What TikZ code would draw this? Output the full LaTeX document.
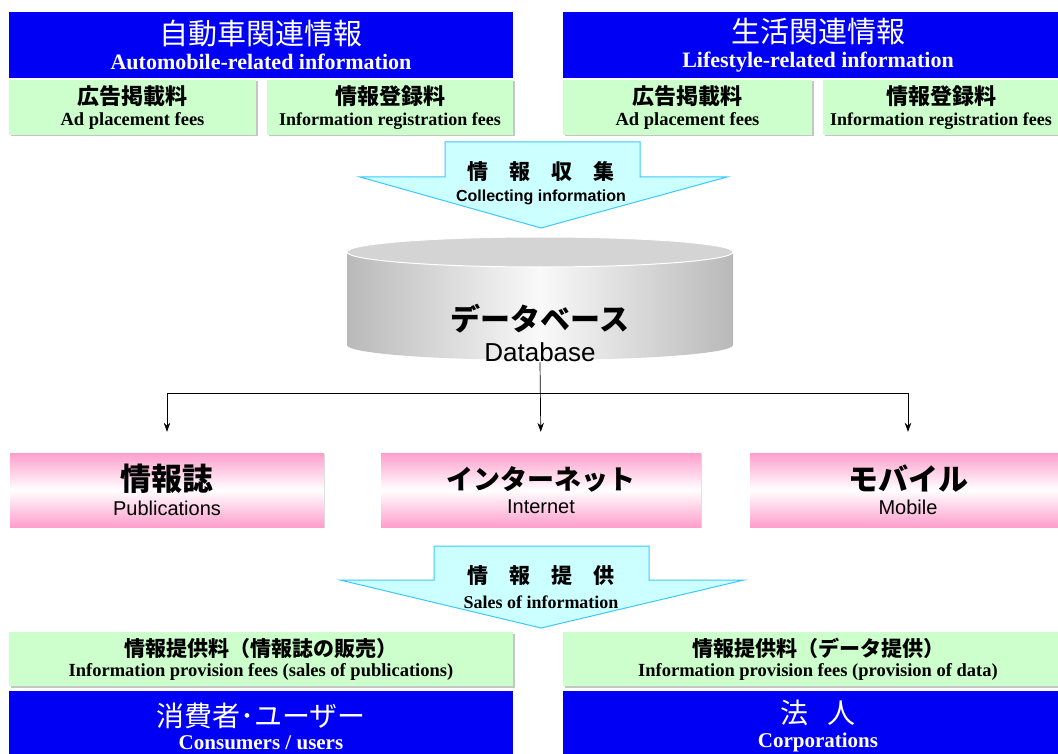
\documentclass[tikz,border=0pt]{standalone}
\usepackage{fontspec}
\setmainfont{Liberation Serif}
\newfontfamily\jpfont{Noto Sans CJK JP}
\newfontfamily\sansfont{Liberation Sans}
\usetikzlibrary{arrows.meta,shadows}
\definecolor{headBlue}{RGB}{0,0,245}
\definecolor{feeGreen}{RGB}{204,255,204}
\definecolor{mediaPink}{RGB}{255,158,204}
\definecolor{flowCyan}{RGB}{204,255,255}
\definecolor{flowEdge}{RGB}{60,200,255}
\definecolor{dbSide}{RGB}{185,185,185}
\definecolor{dbTop}{RGB}{212,212,212}
\newcommand\jpline[2]{{\jpfont\fontsize{#1}{#1}\selectfont #2}}
\newcommand\jpbold[2]{{\jpfont\bfseries\fontsize{#1}{#1}\selectfont #2}}
\newcommand\enline[2]{{\bfseries\fontsize{#1}{#1}\selectfont #2}}
\newcommand\sansline[2]{{\sansfont\fontsize{#1}{#1}\selectfont #2}}

\begin{document}
\begin{tikzpicture}[x=1pt,y=-1pt,
  every node/.style={inner sep=0pt, align=center},
  headbox/.style={fill=headBlue, text=white, minimum height=66pt},
  feebox/.style={fill=feeGreen, minimum height=55pt,
    drop shadow={shadow xshift=1.5pt, shadow yshift=-1.5pt, fill=black!45}},
  mediabox/.style={top color=mediaPink, bottom color=mediaPink, middle color=white,
    minimum height=74pt,
    drop shadow={shadow xshift=1pt, shadow yshift=-1pt, fill=black!25}},
  flowarrow/.style={fill=flowCyan, draw=flowEdge, line width=1pt},
  link/.style={-{Stealth[length=9pt,width=6.5pt]}, line width=0.7pt, shorten >=21pt}
]
\useasboundingbox (0,0) rectangle (1058,754);
\fill[white] (0,0) rectangle (1058,754);

% sources of information
\node[headbox, minimum width=504pt] (autoHead) at (261,45)
  {\jpline{29}{自動車関連情報}\\[6pt]\enline{22}{Automobile-related information}};
\node[headbox, minimum width=510pt] (lifeHead) at (818,45)
  {\jpline{29}{生活関連情報}\\[6pt]\enline{22}{Lifestyle-related information}};
\node[feebox, minimum width=247pt] (autoAd) at (132.5,107.5)
  {\jpbold{22}{広告掲載料}\\[5pt]\enline{18.5}{Ad placement fees}};
\node[feebox, minimum width=246pt] (autoReg) at (390,107.5)
  {\jpbold{22}{情報登録料}\\[5pt]\enline{18}{Information registration fees}};
\node[feebox, minimum width=249pt] (lifeAd) at (687.5,107.5)
  {\jpbold{22}{広告掲載料}\\[5pt]\enline{18.5}{Ad placement fees}};
\node[feebox, minimum width=236pt] (lifeReg) at (941,107.5)
  {\jpbold{22}{情報登録料}\\[5pt]\enline{18}{Information registration fees}};

% collecting arrow
\draw[flowarrow] (445,142) -- (640,142) -- (640,177) -- (727,177) -- (541,228)
  -- (360,177) -- (445,177) -- cycle;
\node (collect) at (541,183)
  {\jpbold{21}{情　報　収　集}\\[7pt]{\sansfont\bfseries\fontsize{16}{16}\selectfont Collecting information}};

% database
\shade[left color=dbSide, right color=dbSide, middle color=white!92!dbSide]
  (347,252) -- (347,345) arc[start angle=180, end angle=360, x radius=193pt, y radius=15pt]
  -- (733,252) -- cycle;
\draw[white, line width=1pt, fill=dbTop] (540,252) ellipse[x radius=193pt, y radius=15pt];
\node (db) at (540,333) {\jpbold{30}{データベース}\\[9pt]\sansline{26}{Database}};

% media
\node[mediabox, minimum width=314pt] (pub) at (167,490)
  {\jpbold{31}{情報誌}\\[7pt]\sansline{20}{Publications}};
\node[mediabox, minimum width=320pt] (inet) at (541,490)
  {\jpbold{27}{インターネット}\\[7pt]\sansline{20}{Internet}};
\node[mediabox, minimum width=316pt] (mob) at (908,490)
  {\jpbold{30}{モバイル}\\[7pt]\sansline{20}{Mobile}};

\coordinate (split) at (541,393);
\draw[link] (db.south) -- (inet.north);
\draw[link] (split) -| (pub.north);
\draw[link] (split) -| (mob.north);

% sales arrow
\draw[flowarrow] (434,546) -- (649,546) -- (649,580) -- (744,580) -- (541,628)
  -- (340,580) -- (434,580) -- cycle;
\node (sales) at (541,587)
  {\jpbold{21}{情　報　提　供}\\[9pt]\enline{18}{Sales of information}};

% customers
\node[feebox, minimum width=504pt, minimum height=54pt] (pubFee) at (261,659)
  {\jpbold{21}{情報提供料（情報誌の販売）}\\[4pt]\enline{18.5}{Information provision fees (sales of publications)}};
\node[feebox, minimum width=510pt, minimum height=54pt] (dataFee) at (818,659)
  {\jpbold{21}{情報提供料（データ提供）}\\[4pt]\enline{18.5}{Information provision fees (provision of data)}};
\node[headbox, minimum width=504pt, minimum height=70pt] (consumer) at (261,726)
  {\jpline{28}{消費者･ユーザー}\\[6pt]\enline{21}{Consumers / users}};
\node[headbox, minimum width=510pt, minimum height=70pt] (corp) at (818,726)
  {\jpline{28}{法\hspace{0.7em}人}\\[6pt]\enline{21}{Corporations}};
\end{tikzpicture}
\end{document}
